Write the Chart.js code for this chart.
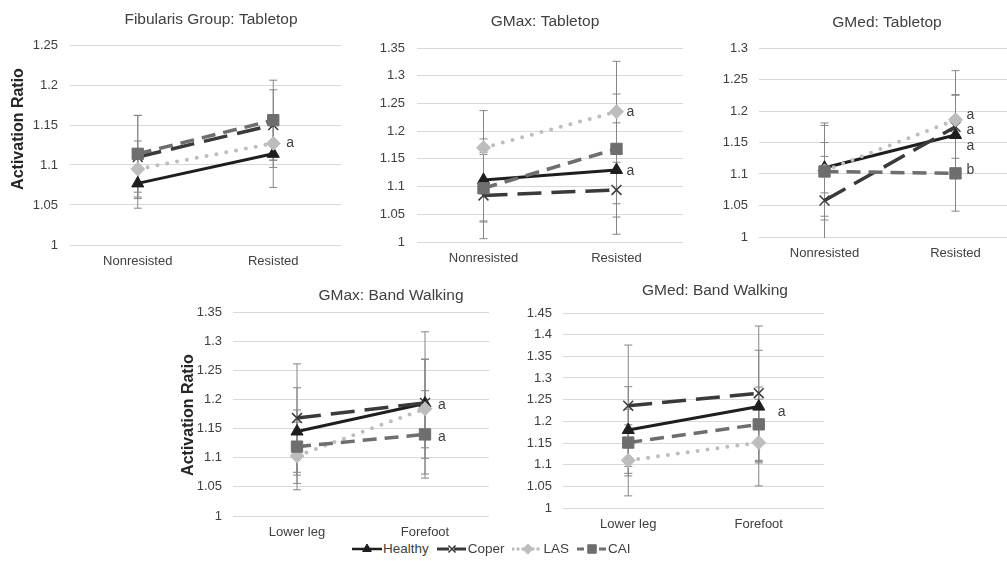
<!DOCTYPE html>
<html>
<head>
<meta charset="utf-8">
<script src="https://cdn.jsdelivr.net/npm/chart.js@4.4.1/dist/chart.umd.min.js"></script>
<style>
  html, body { margin: 0; padding: 0; background: #fff; }
  body { width: 1007px; height: 561px; overflow: hidden; position: relative; font-family: "Liberation Sans", Arial, sans-serif; }
  canvas.panel { position: absolute; }
  #legend { position: absolute; left: 351px; top: 541px; display: flex; align-items: center; font-size: 13.5px; color: #404040; }
  #legend .item { display: flex; align-items: center; margin-right: 7px; }
  #legend canvas { display: block; }
</style>
</head>
<body>
<div id="legend"></div>
<script>
// groups, in the order used by every mean / sd table below
const groups = ['Healthy', 'Coper', 'LAS', 'CAI'];
const tabletopCats = ['Nonresisted', 'Resisted'];
const bandCats = ['Lower leg', 'Forefoot'];

// Fibularis Group: Tabletop  (rows = Healthy, Coper, LAS, CAI)
const fibMean = [[1.077, 1.114], [1.110, 1.150], [1.095, 1.127], [1.114, 1.156]];
const fibSd   = [[0.031, 0.042], [0.052, 0.044], [0.035, 0.030], [0.048, 0.050]];
const fibNotes = [{cat: 1, y: 1.127, text: 'a'}];

// GMax: Tabletop
const gmaxTabMean = [[1.112, 1.130], [1.084, 1.094], [1.170, 1.235], [1.097, 1.168]];
const gmaxTabSd   = [[0.074, 0.085], [0.078, 0.080], [0.067, 0.091], [0.061, 0.099]];
const gmaxTabNotes = [{cat: 1, y: 1.235, text: 'a'}, {cat: 1, y: 1.128, text: 'a'}];

// GMed: Tabletop
const gmedTabMean = [[1.110, 1.162], [1.058, 1.175], [1.105, 1.186], [1.104, 1.101]];
const gmedTabSd   = [[0.040, 0.064], [0.070, 0.050], [0.072, 0.078], [0.077, 0.060]];
const gmedTabNotes = [{cat: 1, y: 1.193, text: 'a'}, {cat: 1, y: 1.170, text: 'a'},
                      {cat: 1, y: 1.145, text: 'a'}, {cat: 1, y: 1.106, text: 'b'}];

// GMax: Band Walking
const gmaxBandMean = [[1.145, 1.193], [1.168, 1.194], [1.103, 1.184], [1.119, 1.140]];
const gmaxBandSd   = [[0.075, 0.076], [0.093, 0.122], [0.058, 0.085], [0.063, 0.075]];
const gmaxBandNotes = [{cat: 1, y: 1.190, text: 'a'}, {cat: 1, y: 1.136, text: 'a'}];

// GMed: Band Walking
const gmedBandMean = [[1.180, 1.234], [1.236, 1.265], [1.110, 1.151], [1.151, 1.193]];
const gmedBandSd   = [[0.100, 0.130], [0.140, 0.155], [0.082, 0.100], [0.077, 0.086]];
const gmedBandNotes = [{cat: 1, y: 1.222, text: 'a'}];

const FONT = '"Liberation Sans", Arial, sans-serif';

// line / marker look for each group
const styles = [
  {color: '#1e1e1e', width: 3,   dash: [],        cap: 'butt',  point: 'triangle', radius: 7, pbw: 1},
  {color: '#3a3a3a', width: 3.5, dash: [24, 10],  cap: 'butt',  point: 'crossRot', radius: 7, pbw: 1.5},
  {color: '#bdbdbd', width: 4,   dash: [0, 10],   cap: 'round', point: 'rectRot',  radius: 7, pbw: 1},
  {color: '#6e6e6e', width: 3.5, dash: [14, 8],   cap: 'butt',  point: 'rect',     radius: 8, pbw: 1}
];
const order = [4, 3, 2, 1]; // CAI drawn on top

// error bars, drawn under the lines
const errorBars = {
  id: 'errorBars',
  beforeDatasetsDraw(chart) {
    const {ctx, chartArea: a, scales: {y}} = chart;
    ctx.save();
    ctx.beginPath();
    ctx.rect(a.left, a.top - 1, a.right - a.left, a.bottom - a.top + 2);
    ctx.clip();
    ctx.strokeStyle = '#858585';
    ctx.lineWidth = 1;
    chart.data.datasets.forEach((ds, i) => {
      const meta = chart.getDatasetMeta(i);
      meta.data.forEach((pt, j) => {
        const v = ds.data[j], e = ds.sd[j];
        const yLo = y.getPixelForValue(v - e), yHi = y.getPixelForValue(v + e);
        ctx.beginPath();
        ctx.moveTo(pt.x, yLo); ctx.lineTo(pt.x, yHi);
        ctx.moveTo(pt.x - 4, yLo); ctx.lineTo(pt.x + 4, yLo);
        ctx.moveTo(pt.x - 4, yHi); ctx.lineTo(pt.x + 4, yHi);
        ctx.stroke();
      });
    });
    ctx.restore();
  }
};

// chart title, y axis title, significance letters
const texts = {
  id: 'texts',
  afterDraw(chart, args, opts) {
    const {ctx, scales: {x, y}} = chart;
    ctx.save();
    ctx.fillStyle = '#404040';
    ctx.font = '15.5px ' + FONT;
    ctx.textAlign = 'center';
    ctx.textBaseline = 'middle';
    ctx.fillText(opts.title, opts.titleX, opts.titleY);
    if (opts.yTitle) {
      ctx.save();
      ctx.translate(opts.yTitleX, opts.yTitleY);
      ctx.rotate(-Math.PI / 2);
      ctx.font = 'bold 16px ' + FONT;
      ctx.fillStyle = '#262626';
      ctx.fillText(opts.yTitle, 0, 0);
      ctx.restore();
    }
    ctx.font = '14px ' + FONT;
    ctx.textAlign = 'left';
    opts.notes.forEach(n => {
      ctx.fillText(n.text, x.getPixelForValue(n.cat) + opts.noteDx, y.getPixelForValue(n.y));
    });
    ctx.restore();
  }
};

function makePanel(p) {
  const canvas = document.createElement('canvas');
  canvas.className = 'panel';
  canvas.width = p.w; canvas.height = p.h;
  canvas.style.left = p.left + 'px'; canvas.style.top = p.top + 'px';
  canvas.style.width = p.w + 'px'; canvas.style.height = p.h + 'px';
  document.body.appendChild(canvas);

  const datasets = groups.map((g, i) => ({
    label: g,
    data: p.mean[i],
    sd: p.sd[i],
    order: order[i],
    borderColor: styles[i].color,
    backgroundColor: styles[i].color,
    borderWidth: styles[i].width,
    borderDash: styles[i].dash,
    borderCapStyle: styles[i].cap,
    pointStyle: styles[i].point,
    pointRadius: styles[i].radius,
    pointBorderWidth: styles[i].pbw,
    pointBackgroundColor: styles[i].color,
    pointBorderColor: styles[i].color,
    tension: 0
  }));

  return new Chart(canvas, {
    type: 'line',
    data: {labels: p.cats, datasets: datasets},
    options: {
      responsive: false,
      animation: false,
      events: [],
      layout: {autoPadding: false, padding: {top: p.padTop, left: 0, right: 0, bottom: 0}},
      plugins: {
        legend: {display: false},
        tooltip: {enabled: false},
        texts: {title: p.title, titleX: p.titleX, titleY: p.titleY,
                yTitle: p.yTitle, yTitleX: p.yTitleX, yTitleY: p.yTitleY,
                notes: p.notes, noteDx: p.noteDx}
      },
      scales: {
        x: {
          type: 'category',
          offset: true,
          grid: {display: false},
          border: {display: false},
          ticks: {font: {family: FONT, size: 13}, color: '#404040', padding: 1},
          afterFit(s) { s.height = 30; s.paddingLeft = 0; s.paddingRight = 0; }
        },
        y: {
          min: 1,
          max: p.max,
          grid: {color: '#d9d9d9', drawTicks: false},
          border: {display: false},
          ticks: {
            stepSize: 0.05,
            font: {family: FONT, size: 13},
            color: '#404040',
            padding: p.tickPad,
            callback: v => String(+v.toFixed(2))
          },
          afterFit(s) { s.width = p.yw; s.paddingTop = 0; s.paddingBottom = 0; }
        }
      }
    },
    plugins: [errorBars, texts]
  });
}

makePanel({left: 0, top: 0, w: 341, h: 275, yw: 70, padTop: 45, max: 1.25, tickPad: 12,
  cats: tabletopCats, mean: fibMean, sd: fibSd, notes: fibNotes, noteDx: 13,
  title: 'Fibularis Group: Tabletop', titleX: 211, titleY: 20,
  yTitle: 'Activation Ratio', yTitleX: 19, yTitleY: 129});

makePanel({left: 345, top: 0, w: 338, h: 272, yw: 72, padTop: 48, max: 1.35, tickPad: 12,
  cats: tabletopCats, mean: gmaxTabMean, sd: gmaxTabSd, notes: gmaxTabNotes, noteDx: 10,
  title: 'GMax: Tabletop', titleX: 200, titleY: 22});

makePanel({left: 690, top: 0, w: 331, h: 267, yw: 69, padTop: 48, max: 1.3, tickPad: 11,
  cats: tabletopCats, mean: gmedTabMean, sd: gmedTabSd, notes: gmedTabNotes, noteDx: 11,
  title: 'GMed: Tabletop', titleX: 197, titleY: 23});

makePanel({left: 175, top: 275, w: 314, h: 271, yw: 58, padTop: 37, max: 1.35, tickPad: 11,
  cats: bandCats, mean: gmaxBandMean, sd: gmaxBandSd, notes: gmaxBandNotes, noteDx: 13,
  title: 'GMax: Band Walking', titleX: 216, titleY: 21,
  yTitle: 'Activation Ratio', yTitleX: 14, yTitleY: 140});

makePanel({left: 505, top: 275, w: 319, h: 263, yw: 58, padTop: 38, max: 1.45, tickPad: 11,
  cats: bandCats, mean: gmedBandMean, sd: gmedBandSd, notes: gmedBandNotes, noteDx: 19,
  title: 'GMed: Band Walking', titleX: 210, titleY: 16});

// legend: line sample with marker, then the group name
const legend = document.getElementById('legend');
groups.forEach((g, i) => {
  const st = styles[i];
  const item = document.createElement('div');
  item.className = 'item';
  const sw = document.createElement('canvas');
  sw.width = 32; sw.height = 14;
  const c = sw.getContext('2d');
  c.strokeStyle = st.color; c.fillStyle = st.color;
  c.lineWidth = st.width - 0.5; c.lineCap = st.cap;
  c.setLineDash(st.dash.map(d => d * 0.5));
  c.beginPath(); c.moveTo(1, 7); c.lineTo(31, 7); c.stroke();
  c.setLineDash([]);
  if (Chart.helpers && Chart.helpers.drawPoint) {
    c.lineWidth = st.pbw;
    Chart.helpers.drawPoint(c, {pointStyle: st.point, radius: st.radius - 2, borderWidth: st.pbw, rotation: 0}, 16, 7);
  }
  const label = document.createElement('span');
  label.textContent = g;
  item.appendChild(sw);
  item.appendChild(label);
  legend.appendChild(item);
});
</script>
</body>
</html>
